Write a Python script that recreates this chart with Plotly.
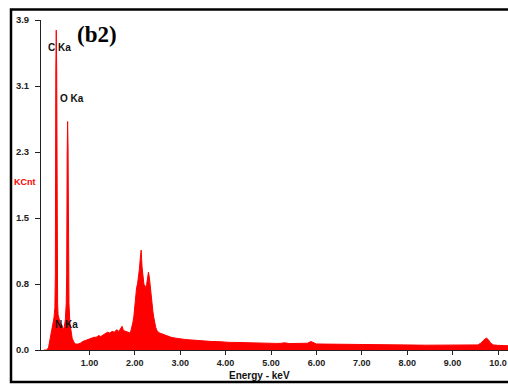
import plotly.graph_objects as go

# ---- data (energy keV, counts in KCnt) ----
energy = [
    0.00, 0.06, 0.10, 0.13, 0.16, 0.18, 0.20, 0.22, 0.24, 0.25, 0.26, 0.27, 0.28, 0.29, 0.30,
    0.31, 0.33, 0.35, 0.37, 0.39, 0.41, 0.43, 0.45, 0.47, 0.49, 0.50, 0.51, 0.52, 0.53, 0.54,
    0.55, 0.57, 0.59, 0.62, 0.66, 0.70,
    0.75, 0.80, 0.85, 0.90, 0.95, 1.00, 1.05, 1.10, 1.15, 1.20, 1.25, 1.30, 1.35, 1.40, 1.45,
    1.50, 1.55, 1.60, 1.65, 1.70, 1.72, 1.75, 1.80, 1.85, 1.90,
    1.92, 1.94, 1.96, 1.98, 2.00, 2.02, 2.04, 2.06, 2.08, 2.10, 2.12, 2.14, 2.16, 2.18, 2.20,
    2.22, 2.24, 2.26, 2.28, 2.30, 2.32, 2.34, 2.36, 2.38, 2.40, 2.42, 2.44, 2.46, 2.48, 2.50,
    2.55, 2.60,
    2.70, 2.80, 2.90, 3.00, 3.10, 3.20, 3.30, 3.40, 3.50, 3.60, 3.70, 3.80, 3.90, 4.00, 4.10,
    4.20, 4.30, 4.40, 4.50, 4.60, 4.70, 4.80, 4.90, 5.00, 5.10, 5.20, 5.30, 5.40, 5.50, 5.60,
    5.70, 5.80, 5.88, 5.95, 6.00, 6.20, 6.40, 6.60, 6.80, 7.00, 7.20, 7.40, 7.60, 7.80, 8.00,
    8.20, 8.40, 8.60, 8.80, 9.00, 9.20, 9.40, 9.55, 9.62, 9.67, 9.71, 9.75, 9.79, 9.84, 9.90,
    10.00, 10.10, 10.25,
]
counts = [
    0.00, 0.00, 0.03, 0.12, 0.22, 0.28, 0.33, 0.38, 0.50, 0.90, 3.30, 3.78, 3.30, 0.90, 0.55,
    0.42, 0.36, 0.33, 0.31, 0.30, 0.27, 0.24, 0.28, 0.36, 0.55, 0.90, 2.30, 2.70, 2.40, 0.90,
    0.55, 0.32, 0.22, 0.14, 0.09, 0.07,
    0.07, 0.08, 0.10, 0.11, 0.12, 0.13, 0.14, 0.15, 0.15, 0.17, 0.16, 0.18, 0.19, 0.21, 0.20,
    0.22, 0.21, 0.24, 0.22, 0.26, 0.28, 0.23, 0.22, 0.21, 0.20,
    0.24, 0.28, 0.33, 0.40, 0.52, 0.66, 0.74, 0.78, 0.84, 0.95, 1.08, 1.18, 0.98, 0.82, 0.78,
    0.76, 0.74, 0.77, 0.86, 0.92, 0.86, 0.74, 0.62, 0.52, 0.45, 0.38, 0.31, 0.27, 0.24, 0.22,
    0.20, 0.19,
    0.17, 0.15, 0.14, 0.13, 0.125, 0.12, 0.115, 0.11, 0.11, 0.105, 0.10, 0.10, 0.095, 0.095, 0.09,
    0.09, 0.088, 0.085, 0.085, 0.083, 0.082, 0.08, 0.08, 0.08, 0.078, 0.078, 0.085, 0.076, 0.075, 0.074,
    0.074, 0.08, 0.10, 0.08, 0.072, 0.07, 0.068, 0.067, 0.066, 0.065, 0.063, 0.062, 0.06, 0.06, 0.058,
    0.058, 0.057, 0.056, 0.056, 0.055, 0.055, 0.055, 0.06, 0.08, 0.11, 0.13, 0.14, 0.12, 0.08, 0.06,
    0.055, 0.052, 0.05,
]

x_tickvals = [1, 2, 3, 4, 5, 6, 7, 8, 9, 10]
x_ticktext = ["1.00", "2.00", "3.00", "4.00", "5.00", "6.00", "7.00", "8.00", "9.00", "10.0"]
y_tickvals = [0, 0.78, 1.56, 2.34, 3.12, 3.9]
y_ticktext = ["0.0", "0.8", "1.5", "2.3", "3.1", "3.9"]

peak_labels = ["C Ka", "O Ka", "N Ka"]
peak_label_x = [0.04, 0.30, 0.19]
peak_label_y = [3.58, 2.97, 0.30]

W, H = 508, 384
ML, MR, MT, MB = 41, 0, 20, 34
PW, PH = W - ML - MR, H - MT - MB


def px(x):
    return (x - ML) / PW


def py(y):
    return (H - MB - y) / PH


FONT = "Liberation Sans"

fig = go.Figure()
fig.add_trace(go.Scatter(
    x=energy, y=counts, mode="lines", fill="tozeroy",
    line=dict(color="#ff0000", width=1), fillcolor="#ff0000",
    hoverinfo="skip", showlegend=False,
))

for t, xx, yy in zip(peak_labels, peak_label_x, peak_label_y):
    fig.add_annotation(x=xx, y=yy, text=t, showarrow=False, xanchor="left",
                       yanchor="middle",
                       font=dict(family=FONT, size=10, color="#111", weight="bold"))

fig.add_annotation(xref="paper", yref="paper", x=px(12), y=py(182), text="KCnt",
                   showarrow=False, xanchor="left", yanchor="middle",
                   font=dict(family=FONT, size=9, color="#ff0000", weight="bold"))
fig.add_annotation(xref="paper", yref="paper", x=px(75), y=py(35), text="(b2)",
                   showarrow=False, xanchor="left", yanchor="middle",
                   font=dict(family="Liberation Serif", size=23, color="#000", weight="bold"))
fig.add_annotation(xref="paper", yref="paper", x=px(259), y=py(375), text="Energy - keV",
                   showarrow=False, xanchor="center", yanchor="middle",
                   font=dict(family=FONT, size=10, color="#111", weight="bold"))

# outer frame
fig.add_shape(type="rect", xref="paper", yref="paper",
              x0=px(11), x1=px(512), y0=py(382), y1=py(9.5),
              line=dict(color="#000", width=2.5), fillcolor="rgba(0,0,0,0)")

fig.update_layout(
    width=W, height=H,
    margin=dict(l=ML, r=MR, t=MT, b=MB, pad=0),
    paper_bgcolor="white", plot_bgcolor="white",
    xaxis=dict(range=[-0.066, 10.22], tickvals=x_tickvals, ticktext=x_ticktext,
               showgrid=False, zeroline=False, showline=True, linecolor="#222", linewidth=1,
               ticks="outside", ticklen=4, tickcolor="#222",
               tickfont=dict(family=FONT, size=9, color="#222", weight="bold")),
    yaxis=dict(range=[0, 3.9], tickvals=y_tickvals, ticktext=y_ticktext,
               showgrid=False, zeroline=False, showline=True, linecolor="#222", linewidth=1,
               ticks="outside", ticklen=5, tickcolor="#222", ticklabelstandoff=4,
               tickfont=dict(family=FONT, size=9.5, color="#222", weight="bold")),
)

fig.write_html("out.html")
